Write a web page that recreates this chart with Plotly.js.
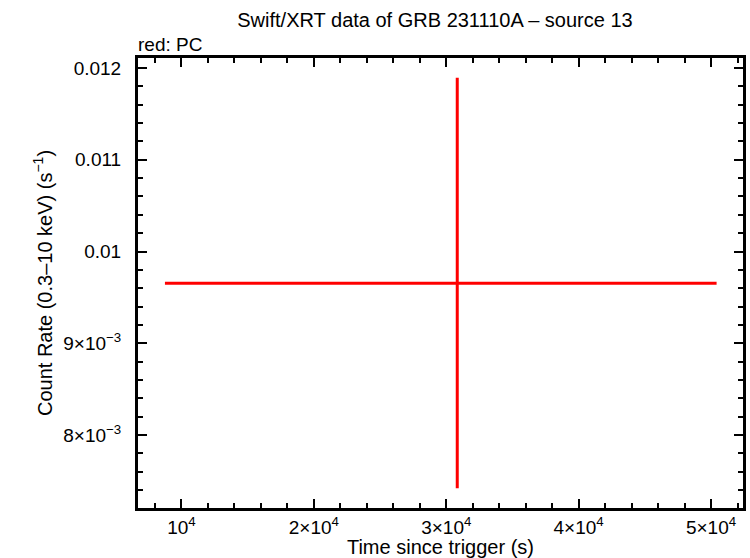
<!DOCTYPE html>
<html>
<head>
<meta charset="utf-8">
<script src="https://cdn.plot.ly/plotly-3.0.1.min.js"></script>
<style>html,body{margin:0;padding:0;background:#fff;}#chart{width:750px;height:558px;}</style>
</head>
<body>
<div id="chart"></div>
<script>
// Data (PC mode, single bin)
const time = [30830];
const timeMinus = [22080];
const timePlus = [19590];
const rate = [0.009653];
const rateMinus = [0.002234];
const ratePlus = [0.002241];

const xTickVals = [10000, 20000, 30000, 40000, 50000];
const xTickText = ['10<sup>4</sup>', '2×10<sup>4</sup>', '3×10<sup>4</sup>', '4×10<sup>4</sup>', '5×10<sup>4</sup>'];
const yTickVals = [0.008, 0.009, 0.01, 0.011, 0.012];
const yTickText = ['8×10<sup>−3</sup>', '9×10<sup>−3</sup>', '0.01', '0.011', '0.012'];

const font = 'Liberation Sans, Arial, sans-serif';

const trace = {
  x: time, y: rate, type: 'scatter', mode: 'markers',
  marker: {size: 0.1, color: '#ff0000'},
  error_x: {type: 'data', symmetric: false, array: timePlus, arrayminus: timeMinus, color: '#ff0000', thickness: 3, width: 0},
  error_y: {type: 'data', symmetric: false, array: ratePlus, arrayminus: rateMinus, color: '#ff0000', thickness: 3, width: 0},
  hoverinfo: 'skip', showlegend: false
};

const axisCommon = {
  showline: true, linewidth: 3, linecolor: '#000', mirror: 'allticks',
  ticks: 'inside', ticklen: 9, tickwidth: 2, tickcolor: '#000',
  showgrid: false, zeroline: false,
  tickfont: {family: font, size: 19, color: '#000'},
  tickmode: 'array'
};

const layout = {
  width: 750, height: 558,
  margin: {l: 138, r: 7, t: 58, b: 50},
  paper_bgcolor: '#fff', plot_bgcolor: '#fff',
  font: {family: font, color: '#000'},
  title: {text: 'Swift/XRT data of GRB 231110A – source 13', font: {family: font, size: 20, color: '#000'}, x: 0.58, xanchor: 'center', y: 0.965, yanchor: 'middle'},
  xaxis: Object.assign({}, axisCommon, {
    range: [6715, 52415], tickvals: xTickVals, ticktext: xTickText,
    ticklabelstandoff: 0,
    minor: {dtick: 2000, tick0: 0, ticks: 'inside', ticklen: 5, tickwidth: 2, tickcolor: '#000', showgrid: false},
    title: {text: 'Time since trigger (s)', font: {family: font, size: 20, color: '#000'}, standoff: 0}
  }),
  yaxis: Object.assign({}, axisCommon, {
    range: [0.0072044, 0.012109], tickvals: yTickVals, ticktext: yTickText,
    ticklabelstandoff: 10,
    minor: {dtick: 0.0002, tick0: 0, ticks: 'inside', ticklen: 5, tickwidth: 2, tickcolor: '#000', showgrid: false},
    title: {text: 'Count Rate (0.3–10 keV) (s<sup>−1</sup>)', font: {family: font, size: 20, color: '#000'}, standoff: 6}
  }),
  annotations: [{
    text: 'red: PC', xref: 'paper', yref: 'paper', x: 0, y: 1, xanchor: 'left', yanchor: 'bottom',
    yshift: 1, xshift: -2, showarrow: false, font: {family: font, size: 19, color: '#000'}
  }]
};

Plotly.newPlot('chart', [trace], layout, {staticPlot: true, displayModeBar: false});
</script>
</body>
</html>
